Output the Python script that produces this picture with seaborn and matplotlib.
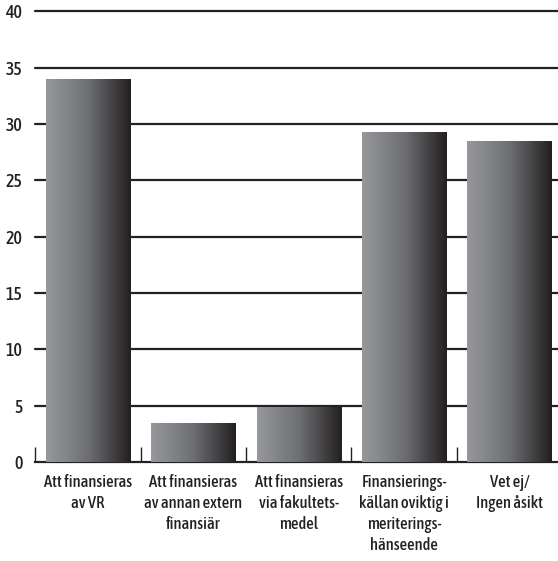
import numpy as np
import pandas as pd
import seaborn as sns
import matplotlib.pyplot as plt
from matplotlib.colors import LinearSegmentedColormap

# data
categories = ["Att finansieras\nav VR",
              "Att finansieras\nav annan extern\nfinansiär",
              "Att finansieras\nvia fakultets-\nmedel",
              "Finansierings-\nkällan oviktig i\nmeriterings-\nhänseende",
              "Vet ej/\nIngen åsikt"]
values = [34.0, 3.5, 4.9, 29.3, 28.5]
yticks = [0, 5, 10, 15, 20, 25, 30, 35, 40]

df = pd.DataFrame({"kategori": categories, "andel": values})

sns.set_style("white")
plt.rcParams['font.family'] = ['Asap Condensed', 'DejaVu Sans']
plt.rcParams['font.stretch'] = 'condensed'

fig = plt.figure(figsize=(5.58, 5.61), dpi=100)
ax = fig.add_axes([0.063, 0.1765, 0.937, 0.8035])

sns.barplot(data=df, x="kategori", y="andel", color="#555555", width=0.8,
            ax=ax, zorder=3)

# horizontal gradient inside each bar
grad_cmap = LinearSegmentedColormap.from_list("bar", ["#97989c", "#6e6f73", "#231f20"])
grad = np.linspace(0, 1, 256).reshape(1, -1)
for p in ax.patches:
    x0, y0 = p.get_x(), p.get_y()
    w, h = p.get_width(), p.get_height()
    im = ax.imshow(grad, cmap=grad_cmap, aspect="auto",
                   extent=[x0, x0 + w, y0, y0 + h], zorder=4)
    im.set_clip_path(p)
    p.set_facecolor("none")
    p.set_edgecolor("none")

ax.set_xlim(-0.5, 4.46)
ax.set_ylim(0, 40)

for yv in yticks[1:]:
    ax.axhline(yv, color="#222222", lw=1.6, zorder=1, clip_on=False)

ax.set_yticks(yticks)
ax.tick_params(axis="y", length=0, pad=9, labelsize=13, labelcolor="#222222")
for t in ax.get_yticklabels():
    t.set_fontweight("medium")
ax.set_xticks(range(len(categories)))
ax.set_xticklabels(categories, fontsize=12, color="#222222", linespacing=1.3)
for t in ax.get_xticklabels():
    t.set_fontweight("medium")
ax.tick_params(axis="x", which="major", length=0, pad=9)
ax.set_xticks([-0.5, 0.5, 1.5, 2.5, 3.5], minor=True)
ax.tick_params(axis="x", which="minor", bottom=True, direction="in", length=11,
               width=1.0, color="#222222")

for s in ["top", "right", "left"]:
    ax.spines[s].set_visible(False)
ax.spines["bottom"].set_color("#222222")
ax.spines["bottom"].set_linewidth(1.6)

ax.set_xlabel("")
ax.set_ylabel("")

fig.savefig("out.png", dpi=100)
